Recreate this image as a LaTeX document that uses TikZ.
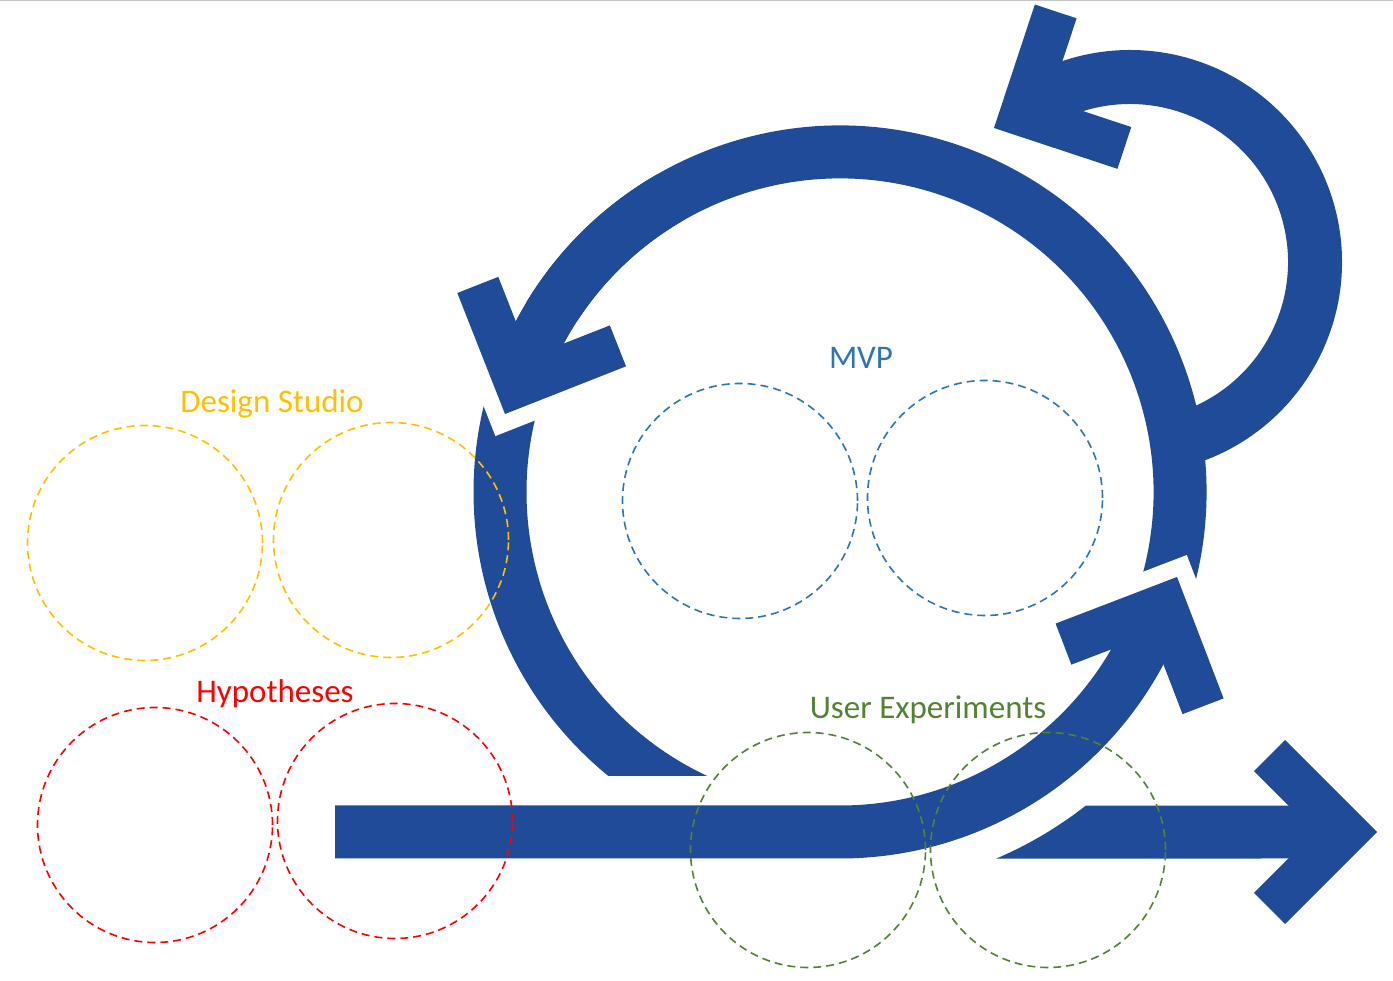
\documentclass[tikz,border=0pt]{standalone}
\usepackage{fontspec}
\setmainfont{Carlito}
\usetikzlibrary{calc}
\definecolor{arrowblue}{RGB}{31,75,153}
\definecolor{studiocol}{RGB}{255,192,0}
\definecolor{hypocol}{RGB}{255,0,0}
\definecolor{mvpcol}{RGB}{46,117,182}
\definecolor{usercol}{RGB}{84,130,53}
\begin{document}
\begin{tikzpicture}[x=1pt,y=1pt,
  ring/.style={draw=arrowblue,line width=53pt},
  loopring/.style={draw=arrowblue,line width=54pt},
  head/.style={draw=arrowblue,line width=44pt,line join=miter},
  headgap/.style={draw=white,line width=78pt,line join=miter},
  phase/.style={draw,circle,dash pattern=on 8pt off 5pt,line width=1.6pt,minimum size=235pt,inner sep=0pt},
  tag/.style={font=\fontsize{33}{39}\selectfont,anchor=base}]
\useasboundingbox (0,0) rectangle (1393,981);
\draw[gray!45,line width=1.5pt] (0,980.25) -- (1393,980.25);
\coordinate (O) at (840,489);
\coordinate (L) at (1130,719);
\begin{scope}
\clip (0,205) rectangle (1393,981);
\draw[ring] ($(O)+(-22:340)$) arc[start angle=-22,end angle=250,radius=340];
\end{scope}
\draw[headgap,shift={(505,567)},rotate=246.5] (-107.5,76.4) -- (-31.1,0) -- (-107.5,-76.4);
\draw[ring] ($(O)+(120:340)$) arc[start angle=120,end angle=162,radius=340];
\draw[head,shift={(505,567)},rotate=246.5] (-107.5,76.4) -- (-31.1,0) -- (-107.5,-76.4);
\draw[headgap,shift={(1177,404)},rotate=66] (-107.5,76.4) -- (-31.1,0) -- (-107.5,-76.4);
\draw[ring] (335,149) -- (840,149) arc[start angle=-90,end angle=-22,radius=340];
\draw[head,shift={(1177,404)},rotate=66] (-107.5,76.4) -- (-31.1,0) -- (-107.5,-76.4);
\fill[arrowblue] ($(O)+(-66.9:398.5)$) arc[start angle=-66.9,end angle=-51.9,radius=398.5] -- (1340,175.5) -- (1340,122.5) -- cycle;
\draw[head,shift={(1377,149)}] (-107.5,76.4) -- (-31.1,0) -- (-107.5,-76.4);
\draw[loopring] ($(L)+(-75:185)$) arc[start angle=-75,end angle=124,radius=185];
\draw[head,shift={(994,853)},rotate=206.7] (-107.5,76.4) -- (-31.1,0) -- (-107.5,-76.4);
\node[phase,draw=studiocol] (studio1) at (145,438) {};
\node[phase,draw=studiocol] (studio2) at (391,441) {};
\node[phase,draw=hypocol] (hypo1) at (155,156) {};
\node[phase,draw=hypocol] (hypo2) at (395,160) {};
\node[phase,draw=mvpcol] (mvp1) at (740,480) {};
\node[phase,draw=mvpcol] (mvp2) at (985,483) {};
\node[phase,draw=usercol] (user1) at (808,131) {};
\node[phase,draw=usercol] (user2) at (1048,131) {};
\node[tag,text=studiocol] (studio) at (272,568) {Design Studio};
\node[tag,text=hypocol] (hypo) at (275,278) {Hypotheses};
\node[tag,text=mvpcol] (mvp) at (861,612) {MVP};
\node[tag,text=usercol] (user) at (928,262) {User Experiments};
\end{tikzpicture}
\end{document}
